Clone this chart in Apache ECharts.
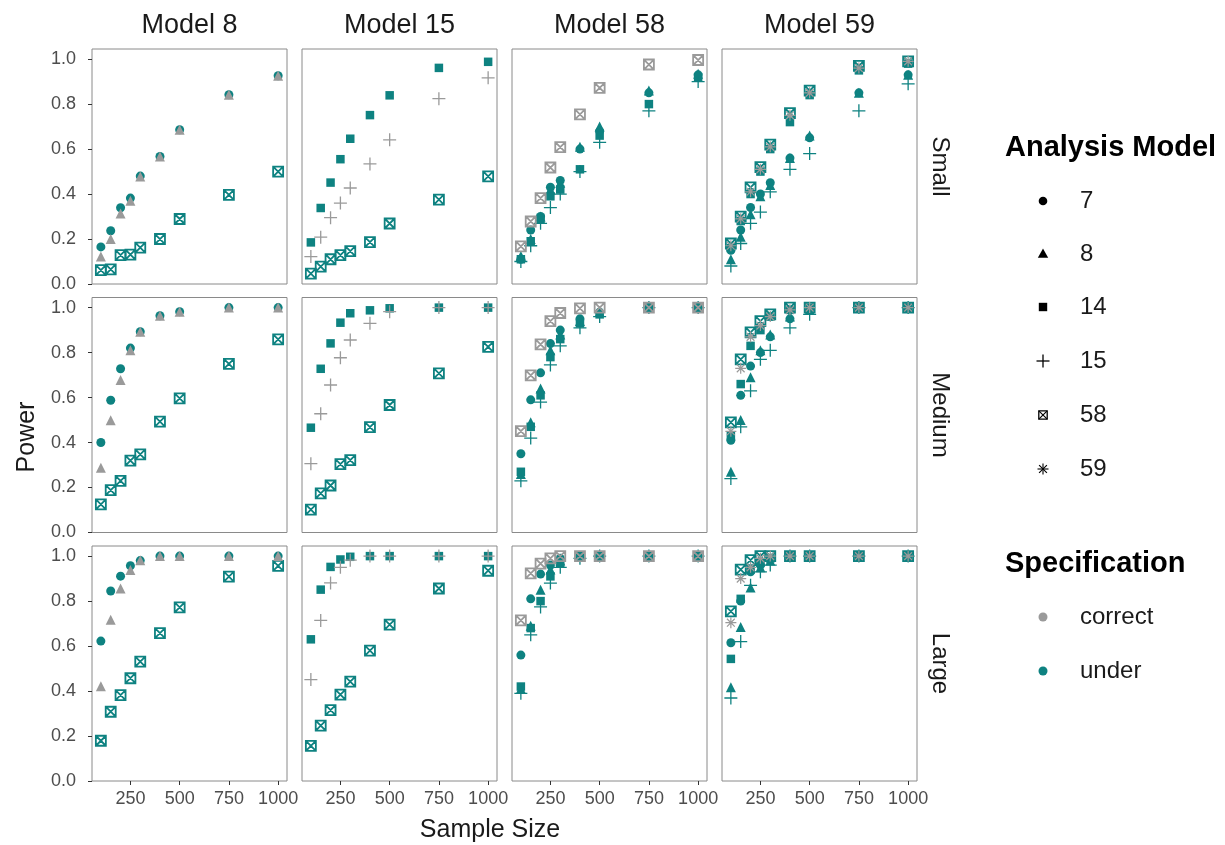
<!DOCTYPE html>
<html>
<head>
<meta charset="utf-8">
<script src="https://cdn.jsdelivr.net/npm/echarts@6/dist/echarts.min.js"></script>
<style>
html, body { margin: 0; padding: 0; background: #ffffff; }
#chart { width: 1225px; height: 845px; }
</style>
</head>
<body>
<div id="chart"></div>
<script>
// Facets: generating model (columns) x effect size (rows)
const generatingModels = ['8', '15', '58', '59'];
const effectSizes = ['Small', 'Medium', 'Large'];
const analysisModels = ['7', '8', '14', '15', '58', '59'];
const specLevels = ['correct', 'under'];
const sampleSizes = [100, 150, 200, 250, 300, 400, 500, 750, 1000];
const xTicks = [250, 500, 750, 1000];
const yTicks = [0, 0.2, 0.4, 0.6, 0.8, 1.0];

// Power per analysis model, one table per panel
const model8Small = {
  '7':  [0.165, 0.237, 0.339, 0.382, 0.48, 0.567, 0.686, 0.842, 0.926],
  '8':  [0.122, 0.20, 0.314, 0.37, 0.478, 0.567, 0.686, 0.842, 0.926],
  '58': [0.062, 0.065, 0.128, 0.131, 0.162, 0.20, 0.289, 0.396, 0.50]
};
const model15Small = {
  '14': [0.185, 0.338, 0.451, 0.555, 0.646, 0.751, 0.839, 0.961, 0.988],
  '15': [0.122, 0.208, 0.295, 0.36, 0.427, 0.534, 0.641, 0.824, 0.917],
  '58': [0.046, 0.077, 0.11, 0.128, 0.146, 0.186, 0.269, 0.375, 0.479]
};
const model58Small = {
  '7':  [0.11, 0.24, 0.30, 0.43, 0.46, 0.60, 0.68, 0.85, 0.93],
  '8':  [0.125, 0.20, 0.30, 0.42, 0.45, 0.61, 0.70, 0.86, 0.935],
  '14': [0.11, 0.19, 0.29, 0.39, 0.42, 0.51, 0.66, 0.80, 0.92],
  '15': [0.10, 0.17, 0.27, 0.34, 0.40, 0.50, 0.63, 0.77, 0.90],
  '58': [0.167, 0.278, 0.382, 0.518, 0.609, 0.754, 0.872, 0.976, 0.996]
};
const model59Small = {
  '7':  [0.15, 0.24, 0.34, 0.40, 0.45, 0.56, 0.65, 0.85, 0.93],
  '8':  [0.11, 0.21, 0.31, 0.39, 0.44, 0.56, 0.66, 0.85, 0.93],
  '14': [0.16, 0.28, 0.40, 0.50, 0.60, 0.72, 0.84, 0.95, 0.98],
  '15': [0.08, 0.18, 0.27, 0.32, 0.41, 0.51, 0.58, 0.77, 0.89],
  '58': [0.18, 0.30, 0.43, 0.52, 0.62, 0.76, 0.86, 0.97, 0.99],
  '59': [0.17, 0.29, 0.41, 0.51, 0.61, 0.75, 0.85, 0.96, 0.99]
};
const model8Medium = {
  '7':  [0.40, 0.588, 0.728, 0.82, 0.893, 0.964, 0.982, 1.0, 1.0],
  '8':  [0.288, 0.499, 0.678, 0.81, 0.893, 0.964, 0.982, 1.0, 1.0],
  '58': [0.125, 0.188, 0.23, 0.32, 0.347, 0.493, 0.596, 0.75, 0.859]
};
const model15Medium = {
  '14': [0.466, 0.728, 0.841, 0.933, 0.975, 0.988, 0.997, 1.0, 1.0],
  '15': [0.306, 0.528, 0.656, 0.777, 0.856, 0.93, 0.982, 1.0, 1.0],
  '58': [0.102, 0.174, 0.209, 0.304, 0.322, 0.469, 0.567, 0.708, 0.825]
};
const model58Medium = {
  '7':  [0.35, 0.59, 0.71, 0.84, 0.90, 0.95, 0.98, 1.0, 1.0],
  '8':  [0.26, 0.49, 0.64, 0.81, 0.88, 0.94, 0.98, 1.0, 1.0],
  '14': [0.27, 0.47, 0.61, 0.78, 0.86, 0.93, 0.97, 1.0, 1.0],
  '15': [0.23, 0.42, 0.58, 0.745, 0.83, 0.91, 0.96, 1.0, 1.0],
  '58': [0.451, 0.699, 0.837, 0.94, 0.976, 0.997, 1.0, 1.0, 1.0]
};
const model59Medium = {
  '7':  [0.41, 0.61, 0.74, 0.80, 0.87, 0.95, 0.99, 1.0, 1.0],
  '8':  [0.27, 0.50, 0.69, 0.81, 0.88, 0.96, 0.99, 1.0, 1.0],
  '14': [0.43, 0.66, 0.83, 0.90, 0.96, 0.99, 1.0, 1.0, 1.0],
  '15': [0.24, 0.47, 0.63, 0.77, 0.81, 0.91, 0.97, 1.0, 1.0],
  '58': [0.49, 0.77, 0.89, 0.94, 0.97, 1.0, 1.0, 1.0, 1.0],
  '59': [0.45, 0.73, 0.87, 0.92, 0.96, 0.99, 1.0, 1.0, 1.0]
};
const model8Large = {
  '7':  [0.622, 0.845, 0.911, 0.957, 0.98, 1.0, 1.0, 1.0, 1.0],
  '8':  [0.421, 0.717, 0.856, 0.938, 0.982, 1.0, 1.0, 1.0, 1.0],
  '58': [0.179, 0.308, 0.382, 0.457, 0.531, 0.658, 0.772, 0.909, 0.957]
};
const model15Large = {
  '14': [0.63, 0.851, 0.952, 0.985, 0.997, 1.0, 1.0, 1.0, 1.0],
  '15': [0.451, 0.714, 0.881, 0.95, 0.982, 1.0, 1.0, 1.0, 1.0],
  '58': [0.156, 0.246, 0.315, 0.384, 0.442, 0.58, 0.695, 0.856, 0.935]
};
const model58Large = {
  '7':  [0.56, 0.81, 0.92, 0.96, 0.99, 1.0, 1.0, 1.0, 1.0],
  '8':  [0.41, 0.69, 0.851, 0.94, 0.98, 1.0, 1.0, 1.0, 1.0],
  '14': [0.42, 0.68, 0.80, 0.91, 0.97, 1.0, 1.0, 1.0, 1.0],
  '15': [0.39, 0.65, 0.774, 0.88, 0.95, 0.99, 1.0, 1.0, 1.0],
  '58': [0.714, 0.923, 0.967, 0.99, 1.0, 1.0, 1.0, 1.0, 1.0]
};
const model59Large = {
  '7':  [0.615, 0.80, 0.93, 0.96, 0.99, 1.0, 1.0, 1.0, 1.0],
  '8':  [0.417, 0.685, 0.86, 0.95, 0.98, 1.0, 1.0, 1.0, 1.0],
  '14': [0.543, 0.81, 0.94, 0.97, 0.99, 1.0, 1.0, 1.0, 1.0],
  '15': [0.369, 0.62, 0.87, 0.93, 0.96, 1.0, 1.0, 1.0, 1.0],
  '58': [0.754, 0.94, 0.982, 1.0, 1.0, 1.0, 1.0, 1.0, 1.0],
  '59': [0.704, 0.90, 0.95, 0.99, 1.0, 1.0, 1.0, 1.0, 1.0]
};

const panels = {
  '8':  { Small: model8Small,  Medium: model8Medium,  Large: model8Large },
  '15': { Small: model15Small, Medium: model15Medium, Large: model15Large },
  '58': { Small: model58Small, Medium: model58Medium, Large: model58Large },
  '59': { Small: model59Small, Medium: model59Medium, Large: model59Large }
};

// ---- styling ----
const FONT = '"Liberation Sans", Arial, Helvetica, sans-serif';
const SPEC_COLOR = { correct: '#9a9a9a', under: '#0e8281' };
const INK = '#1a1a1a';
const TICK_TEXT = '#4d4d4d';

// ggplot-like point shapes
const SHAPES = {
  '7':  { symbol: 'circle', size: 9, stroked: false },
  '8':  { symbol: 'triangle', size: 10, stroked: false },
  '14': { symbol: 'rect', size: 8.5, stroked: false },
  '15': { symbol: 'path://M5,0L5,10M0,5L10,5', size: 13, stroked: true, lw: 1.3 },
  '58': { symbol: 'path://M0,0L10,0L10,10L0,10ZM0,0L10,10M10,0L0,10', size: 10, stroked: true, lw: 1.8 },
  '59': { symbol: 'path://M5,0L5,10M0,5L10,5M1.46,1.46L8.54,8.54M8.54,1.46L1.46,8.54', size: 11, stroked: true, lw: 1.2 }
};

const colLeft = [92, 302, 512, 722];
const rowTop = [49, 297.5, 546];
const panelW = 195;
const panelH = 235;
const X_MIN = 55, X_MAX = 1045, Y_MIN = 0, Y_MAX = 1.045;

const grids = [], xAxes = [], yAxes = [], series = [];

effectSizes.forEach((eff, r) => {
  generatingModels.forEach((gm, c) => {
    const idx = r * generatingModels.length + c;
    grids.push({
      left: colLeft[c], top: rowTop[r], width: panelW, height: panelH,
      show: true, borderColor: '#8a8a8a', borderWidth: 1,
      backgroundColor: 'rgba(0,0,0,0)', containLabel: false, outerBoundsMode: 'none'
    });
    xAxes.push({
      gridIndex: idx, type: 'value', min: X_MIN, max: X_MAX,
      splitLine: { show: false }, axisLine: { show: false },
      axisTick: { show: r === effectSizes.length - 1, customValues: xTicks, length: 4, lineStyle: { color: '#333333', width: 1 } },
      axisLabel: { show: r === effectSizes.length - 1, customValues: xTicks, fontSize: 18, color: TICK_TEXT, fontFamily: FONT, margin: 9,
        formatter: v => String(v) }
    });
    yAxes.push({
      gridIndex: idx, type: 'value', min: Y_MIN, max: Y_MAX,
      splitLine: { show: false }, axisLine: { show: false },
      axisTick: { show: c === 0, customValues: yTicks, length: 4, lineStyle: { color: '#333333', width: 1 } },
      axisLabel: { show: c === 0, customValues: yTicks, fontSize: 18, color: TICK_TEXT, fontFamily: FONT, margin: 16,
        formatter: v => v.toFixed(1) }
    });

    const table = panels[gm][eff];
    // under-specified fits first, the correct fit drawn on top
    const order = analysisModels.filter(m => table[m] && m !== gm).concat(table[gm] ? [gm] : []);
    order.forEach(m => {
      const spec = (m === gm) ? 'correct' : 'under';
      const col = SPEC_COLOR[spec];
      const sh = SHAPES[m];
      series.push({
        type: 'scatter', name: m + ' ' + spec, xAxisIndex: idx, yAxisIndex: idx,
        symbol: sh.symbol, symbolSize: sh.size, silent: true,
        itemStyle: sh.stroked
          ? { color: 'rgba(0,0,0,0)', borderColor: col, borderWidth: sh.lw, opacity: 1 }
          : { color: col, borderWidth: 0, opacity: 1 },
        data: sampleSizes.map((n, k) => [n, table[m][k]])
      });
    });
  });
});

// ---- text, strips and legend ----
const graphics = [];
function txt(x, y, text, size, opts) {
  opts = opts || {};
  graphics.push({
    type: 'text', x: x, y: y, rotation: opts.rotation || 0, silent: true,
    style: {
      text: text, fill: opts.fill || INK,
      font: (opts.weight || 'normal') + ' ' + size + 'px ' + FONT,
      textAlign: opts.align || 'center', textVerticalAlign: 'middle',
      align: opts.align || 'center', verticalAlign: 'middle'
    }
  });
}

generatingModels.forEach((gm, c) => txt(colLeft[c] + panelW / 2, 26, 'Model ' + gm, 27));
effectSizes.forEach((eff, r) => txt(940, rowTop[r] + panelH / 2, eff, 24, { rotation: -Math.PI / 2 }));
txt(27, 437, 'Power', 25, { rotation: Math.PI / 2 });
txt(490, 830, 'Sample Size', 25);

// legend: Analysis Model (shapes)
const LX = 1043, LT = 1080;
txt(1005, 148, 'Analysis Model', 29, { weight: 'bold', align: 'left', fill: '#000' });
const shapeRows = [201, 254, 307, 361, 415, 469];
function legendShape(m, x, y, color) {
  const st = { stroke: color, lineWidth: SHAPES[m].lw || 1, fill: null };
  if (m === '7') graphics.push({ type: 'circle', silent: true, shape: { cx: x, cy: y, r: 4.3 }, style: { fill: color } });
  if (m === '8') graphics.push({ type: 'polygon', silent: true, shape: { points: [[x, y - 5.5], [x + 5.2, y + 3.8], [x - 5.2, y + 3.8]] }, style: { fill: color } });
  if (m === '14') graphics.push({ type: 'rect', silent: true, shape: { x: x - 4.2, y: y - 4.2, width: 8.4, height: 8.4 }, style: { fill: color } });
  if (m === '15') {
    graphics.push({ type: 'line', silent: true, shape: { x1: x - 6.5, y1: y, x2: x + 6.5, y2: y }, style: st });
    graphics.push({ type: 'line', silent: true, shape: { x1: x, y1: y - 6.5, x2: x, y2: y + 6.5 }, style: st });
  }
  if (m === '58') {
    const h = 4.2;
    graphics.push({ type: 'rect', silent: true, shape: { x: x - h, y: y - h, width: 2 * h, height: 2 * h }, style: { stroke: color, lineWidth: 1.3, fill: null } });
    graphics.push({ type: 'line', silent: true, shape: { x1: x - h, y1: y - h, x2: x + h, y2: y + h }, style: { stroke: color, lineWidth: 1.1 } });
    graphics.push({ type: 'line', silent: true, shape: { x1: x + h, y1: y - h, x2: x - h, y2: y + h }, style: { stroke: color, lineWidth: 1.1 } });
  }
  if (m === '59') {
    const a = 5.5, d = 3.9;
    [[x - a, y, x + a, y], [x, y - a, x, y + a], [x - d, y - d, x + d, y + d], [x + d, y - d, x - d, y + d]].forEach(s =>
      graphics.push({ type: 'line', silent: true, shape: { x1: s[0], y1: s[1], x2: s[2], y2: s[3] }, style: { stroke: color, lineWidth: 1.1 } }));
  }
}
analysisModels.forEach((m, i) => {
  legendShape(m, LX, shapeRows[i], '#000');
  txt(LT, shapeRows[i], m, 24, { align: 'left' });
});

// legend: Specification (colours)
txt(1005, 564, 'Specification', 29, { weight: 'bold', align: 'left', fill: '#000' });
const specRows = [617, 671];
specLevels.forEach((s, i) => {
  graphics.push({ type: 'circle', silent: true, shape: { cx: LX, cy: specRows[i], r: 4.5 }, style: { fill: SPEC_COLOR[s] } });
  txt(LT, specRows[i], s, 24, { align: 'left' });
});

const chart = echarts.init(document.getElementById('chart'), null, { renderer: 'canvas' });
chart.setOption({
  animation: false,
  backgroundColor: '#ffffff',
  grid: grids,
  xAxis: xAxes,
  yAxis: yAxes,
  series: series,
  graphic: graphics
});
</script>
</body>
</html>
